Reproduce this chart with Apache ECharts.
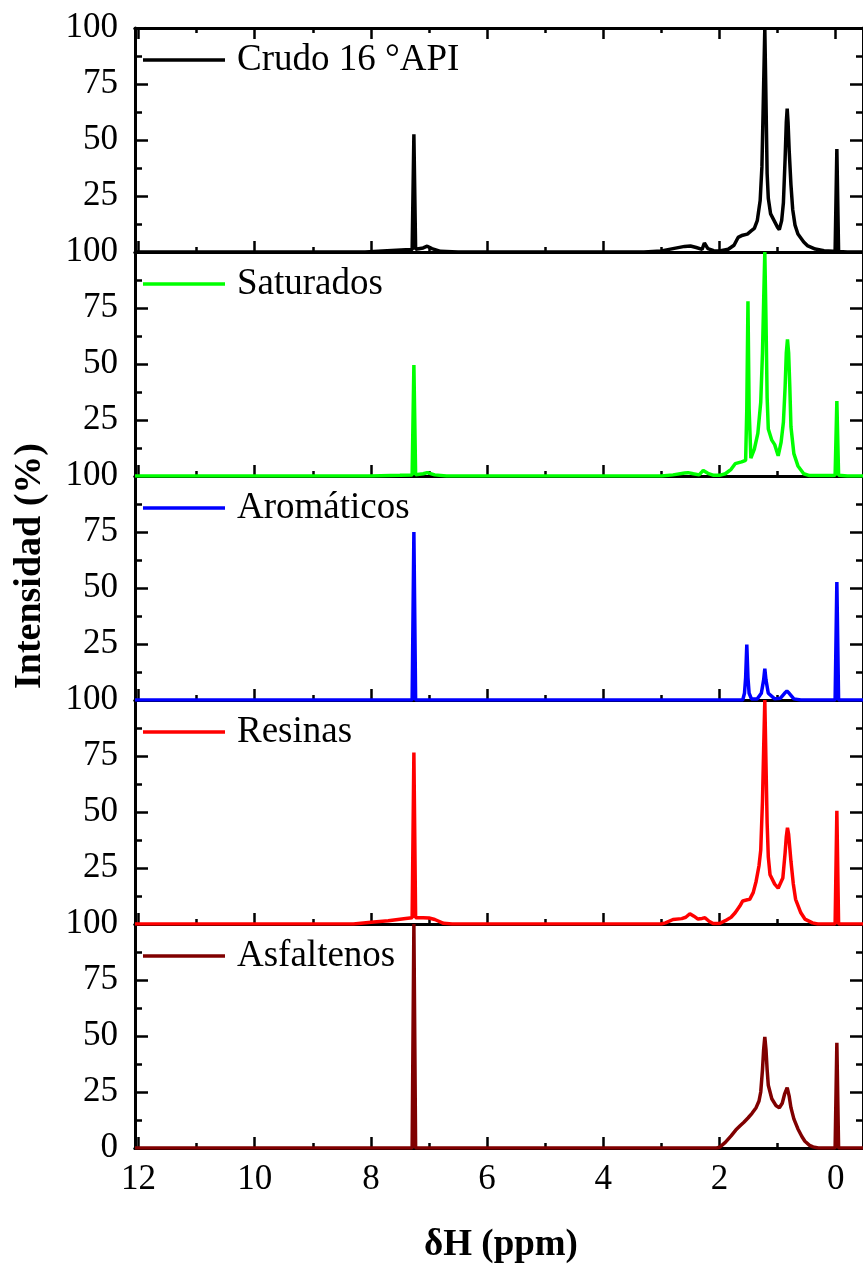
<!DOCTYPE html>
<html>
<head>
<meta charset="utf-8">
<script src="https://cdn.jsdelivr.net/npm/echarts@6/dist/echarts.min.js"></script>
<style>
  html, body { margin: 0; padding: 0; background: #fff; }
  #chart { width: 863px; height: 1266px; }
</style>
</head>
<body>
<div id="chart"></div>
<script>
// nombres de las muestras (leyendas)
var names = ['Crudo 16 \u00b0API', 'Saturados', 'Arom\u00e1ticos', 'Resinas', 'Asfaltenos'];
var colors = ['#000000', '#00ff00', '#0000ff', '#ff0000', '#800000'];

// etiquetas del eje x (ppm) y del eje y (%)
var xMajor = [0, 2, 4, 6, 8, 10, 12];
var xMinor = [1, 3, 5, 7, 9, 11];
var yTicks = [0, 25, 50, 75, 100];

// espectros [ppm, intensidad %]
var crudo = [[12.06,0],[8.1,0],[7.8,0.5],[7.4,1],[7.29,1],[7.26,52.5],[7.23,1.2],[7.1,1.8],[7.03,2.6],[6.95,1.5],[6.8,0.3],[6.5,0],
  [3.3,0],[3.0,0.5],[2.8,1.5],[2.6,2.5],[2.5,2.7],[2.4,2],[2.3,1.2],[2.26,4],[2.2,1.5],[2.1,0.6],[2.0,0.5],[1.85,1.2],[1.75,3],
  [1.68,6.5],[1.6,7.5],[1.52,8],[1.45,9.5],[1.4,10.5],[1.35,14],[1.3,23],[1.27,38],[1.25,62],[1.22,100],[1.2,68],[1.18,35],
  [1.16,24],[1.12,17],[1.06,14],[1.0,11],[0.97,10],[0.93,14],[0.9,22],[0.87,42],[0.85,58],[0.835,64],[0.82,58],[0.8,45],
  [0.77,30],[0.74,19],[0.7,12],[0.65,8],[0.55,4.5],[0.48,2.7],[0.35,1.3],[0.2,0.6],[0.05,0.3],[0.01,0.3],[-0.02,46],
  [-0.05,0.2],[-0.2,0],[-0.47,0]];
var saturados = [[12.06,0],[8.0,0],[7.5,0.3],[7.29,0.5],[7.26,49.5],[7.23,0.6],[7.1,1],[7.03,1.5],[6.9,0.5],[6.7,0],
  [3.0,0],[2.8,0.5],[2.6,1.3],[2.54,1.5],[2.45,1],[2.35,0.5],[2.28,2.5],[2.25,3],[2.2,1.2],[2.1,0.3],[2.0,0.3],[1.9,1],
  [1.8,3],[1.73,5.5],[1.62,6.3],[1.55,7],[1.53,30],[1.51,78],[1.49,30],[1.46,8],[1.4,12],[1.34,19],[1.29,33],[1.26,55],
  [1.24,78],[1.22,100],[1.2,70],[1.18,35],[1.16,21],[1.1,16],[1.05,14],[0.99,9],[0.94,15],[0.9,24],[0.87,40],[0.85,55],
  [0.83,61],[0.81,55],[0.79,40],[0.77,22],[0.72,10],[0.65,4.5],[0.55,1],[0.45,0.2],[0.05,0.2],[0.01,0.3],[-0.02,33.5],
  [-0.05,0.3],[-0.2,0],[-0.47,0]];
var aromaticos = [[12.06,0],[7.29,0],[7.26,75],[7.23,0],[1.6,0],[1.57,3],[1.55,10],[1.53,24.8],[1.51,10],[1.49,3],
  [1.45,0.5],[1.35,0.5],[1.28,3],[1.24,9],[1.22,14],[1.2,9],[1.16,3],[1.05,0.5],[0.95,0.8],[0.88,3],[0.84,4],[0.8,3],
  [0.72,0.5],[0.6,0],[0.01,0],[-0.02,52.7],[-0.05,0],[-0.47,0]];
var resinas = [[12.06,0],[8.3,0],[8.0,0.8],[7.7,1.5],[7.4,2.5],[7.29,2.8],[7.26,76.5],[7.23,2.8],[7.1,2.8],[7.0,2.7],
  [6.9,2],[6.75,0.3],[6.6,0],[3.0,0],[2.93,0.5],[2.8,2],[2.65,2.4],[2.58,3],[2.51,4.6],[2.44,3.5],[2.37,2.2],[2.3,2.5],
  [2.25,2.8],[2.18,1.2],[2.11,0.2],[2.0,0.2],[1.9,1.5],[1.8,3],[1.73,5],[1.65,8],[1.6,10.3],[1.52,10.8],[1.48,11],
  [1.42,14],[1.37,19],[1.32,26],[1.29,33],[1.26,55],[1.24,78],[1.22,100],[1.2,72],[1.18,45],[1.16,30],[1.13,22],
  [1.05,17.8],[0.99,16],[0.96,15.6],[0.91,20.5],[0.87,32],[0.85,39],[0.83,43],[0.81,40],[0.79,34],[0.77,28],[0.73,18],
  [0.69,11],[0.6,5],[0.53,2.2],[0.4,0.5],[0.31,0],[0.01,0],[-0.02,50.5],[-0.05,0],[-0.47,0]];
var asfaltenos = [[12.06,0],[7.29,0],[7.26,100],[7.23,0],[2.05,0],[2.0,0.3],[1.9,2.5],[1.8,5.4],[1.72,8],[1.65,9.8],
  [1.58,11.5],[1.51,13.4],[1.44,15.5],[1.37,18],[1.32,21],[1.29,25],[1.26,35],[1.24,44],[1.22,49.6],[1.2,44],[1.18,35],
  [1.16,28],[1.1,22],[1.03,19],[0.97,18],[0.92,20],[0.88,24],[0.835,27],[0.8,23],[0.77,18],[0.72,13],[0.65,8.5],
  [0.58,5],[0.53,3],[0.45,1.2],[0.39,0.5],[0.3,0],[0.01,0],[-0.02,47],[-0.05,0],[-0.47,0]];
var spectra = [crudo, saturados, aromaticos, resinas, asfaltenos];

var FONT = 'Liberation Serif';
var panelTop = 28, panelH = 224, X_MIN = -0.47, X_MAX = 12.06;

var grids = [], xAxes = [], yAxes = [], series = [], legends = [];

function xAxisBase(k, pos, vals, len, showLabel) {
    return {
        type: 'value', gridIndex: k, position: pos, inverse: true, min: X_MIN, max: X_MAX,
        axisLine: { show: true, onZero: false, lineStyle: { color: '#000', width: 3 } },
        axisTick: { show: true, inside: true, length: len, lineStyle: { color: '#000', width: 2.5 }, customValues: vals },
        axisLabel: { show: showLabel, customValues: vals, margin: 14, color: '#000', fontSize: 35, fontFamily: FONT },
        splitLine: { show: false }
    };
}

function yAxisBase(k, pos) {
    return {
        type: 'value', gridIndex: k, position: pos, min: 0, max: 100, interval: 25,
        axisLine: { show: true, onZero: false, lineStyle: { color: '#000', width: 3 } },
        axisTick: { show: true, inside: true, length: 13, lineStyle: { color: '#000', width: 2.5 } },
        minorTick: { show: true, splitNumber: 2, length: 7, lineStyle: { color: '#000', width: 2.5 } },
        axisLabel: {
            show: pos === 'left', margin: 17, color: '#000', fontSize: 35, fontFamily: FONT,
            formatter: function (v) { return (v === 0 && k < 4) ? '' : String(v); }
        },
        splitLine: { show: false }
    };
}

for (let k = 0; k < 5; k++) {
    grids.push({ left: 135, right: -3, top: panelTop + panelH * k, height: panelH });

    var mainIdx = xAxes.length;
    xAxes.push(xAxisBase(k, 'bottom', xMajor, 11, k === 4));
    xAxes.push(xAxisBase(k, 'bottom', xMinor, 5, false));
    if (k === 0) {
        xAxes.push(xAxisBase(k, 'top', xMajor, 11, false));
        xAxes.push(xAxisBase(k, 'top', xMinor, 5, false));
    }

    var yIdx = yAxes.length;
    yAxes.push(yAxisBase(k, 'left'));
    yAxes.push(yAxisBase(k, 'right'));

    series.push({
        name: names[k], type: 'line', xAxisIndex: mainIdx, yAxisIndex: yIdx,
        data: spectra[k], showSymbol: false, symbol: 'none', smooth: false,
        color: colors[k], lineStyle: { color: colors[k], width: 3.5 }, z: 5
    });

    legends.push({
        data: [names[k]], left: 138, top: panelTop + panelH * k + 6,
        icon: 'rect', itemWidth: 82, itemHeight: 3.5,
        selectedMode: false,
        textStyle: { color: '#000', fontSize: 37, fontFamily: FONT, lineHeight: 42, padding: [0, 0, 0, 7] }
    });
}

var myChart = echarts.init(document.getElementById('chart'));
var option = {
    animation: false,
    backgroundColor: '#fff',
    grid: grids,
    xAxis: xAxes,
    yAxis: yAxes,
    legend: legends,
    series: series,
    graphic: [
        {
            type: 'text', x: 30, y: 566, rotation: Math.PI / 2,
            style: { text: 'Intensidad (%)', fontSize: 38, fontWeight: 'bold', fontFamily: FONT, fill: '#000', align: 'center', verticalAlign: 'middle' }
        },
        {
            type: 'text', x: 501, y: 1245,
            style: { text: '\u03b4H (ppm)', fontSize: 37, fontWeight: 'bold', fontFamily: FONT, fill: '#000', align: 'center', verticalAlign: 'middle' }
        }
    ]
};
myChart.setOption(option);
</script>
</body>
</html>
